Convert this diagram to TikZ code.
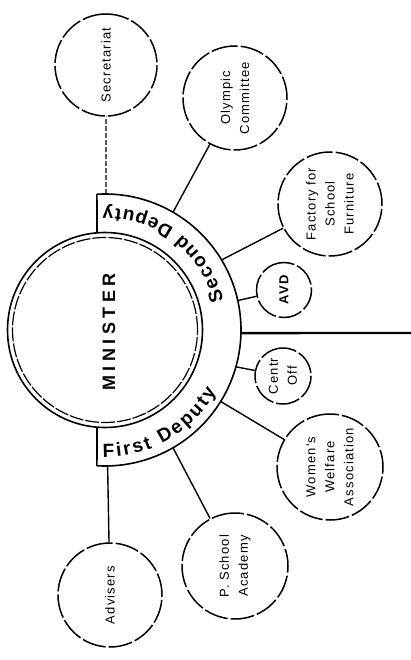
\documentclass[tikz,border=0pt]{standalone}
\usepackage{fontspec}
\setmainfont{Liberation Sans}
\newfontfamily\subfont[LetterSpace=9]{Liberation Sans}
\newfontfamily\minfont[LetterSpace=25]{Liberation Sans}
\usetikzlibrary{calc,decorations.text}
\begin{document}
\begin{tikzpicture}[x=1pt,y=1pt,
  sub/.style={circle, draw, line width=1.5pt, dash pattern=on 24pt off 3pt,
    minimum size=#1, inner sep=0pt, rotate=90, align=center,
    font=\subfont\fontsize{13}{19}\selectfont},
  conn/.style={line width=1.4pt},
  ring/.style={line width=1.6pt}]
\useasboundingbox (0,0) rectangle (411,-660);
\coordinate (C) at (105,-330);

% Minister double circle
\draw[ring] (C) circle[radius=97.5];
\draw[line width=1.2pt, dash pattern=on 14pt off 2pt] (C) circle[radius=92.5];
\node[rotate=90, font=\minfont\bfseries\fontsize{18}{18}\selectfont] (min) at (109,-332) {MINISTER};

% Deputy band
\coordinate (bt) at ($(C)+(93.4:136)$);
\coordinate (bb) at ($(C)+(-93.4:136)$);
\coordinate (it) at ($(C)+(94.7:97.5)$);
\coordinate (ib) at ($(C)+(-94.7:97.5)$);
\draw[ring] (bt) arc[start angle=93.4, end angle=-93.4, radius=136];
\draw[ring] (bt) -- (it);
\draw[ring] (bb) -- (ib);

\path[decorate, decoration={text along path, text align=fit to path,
  text={|\bfseries\fontsize{19}{19}\selectfont|Second Deputy}}]
  ($(C)+(14:122)$) arc[start angle=14, end angle=91, radius=122];
\path[decorate, decoration={text along path, text align=fit to path,
  text={|\bfseries\fontsize{19}{19}\selectfont|First Deputy}}]
  ($(C)+(-91:127)$) arc[start angle=-91, end angle=-29, radius=127];

% Main line to the right
\coordinate (bE) at ($(C)+(-1.3:135.5)$);
\coordinate (exit) at (411,-333);
\draw[line width=2.4pt] (bE) -- (exit);

% Sub units
\node[sub=102pt] (sec) at (106,-65) {Secretariat};
\node[sub=104pt] (oly) at (235,-98) {Olympic\\Committee};
\node[sub=104pt] (fac) at (330,-204) {Factory for\\School\\Furniture};
\node[sub=55pt, font=\subfont\bfseries\fontsize{13}{19}\selectfont] (avd) at (284,-290) {AVD};
\node[sub=56pt] (cen) at (283,-376) {Centr\\Off};
\node[sub=106pt] (wom) at (330,-467) {Women's\\Welfare\\Association};
\node[sub=106pt] (pio) at (235,-566) {P. School\\Academy};
\node[sub=104pt] (adv) at (110,-595) {Advisers};

% Anchors on the band
\coordinate (bS) at ($(C)+(89.6:136)$);
\coordinate (bO) at ($(C)+(60:136)$);
\coordinate (bF) at ($(C)+(31:136)$);
\coordinate (bA) at ($(C)+(12.5:136)$);
\coordinate (bC) at ($(C)+(-15.7:136)$);
\coordinate (bW) at ($(C)+(-31.7:136)$);
\coordinate (bP) at ($(C)+(-60:136)$);
\coordinate (bD) at ($(C)+(-88.9:136)$);

\draw[conn, dash pattern=on 5pt off 2pt] (bS) -- (sec);
\draw[conn] (bO) -- (oly);
\draw[conn] (bF) -- (fac);
\draw[conn] (bA) -- (avd);
\draw[conn] (bC) -- (cen);
\draw[conn] (bW) -- (wom);
\draw[conn] (bP) -- (pio);
\draw[conn] (bD) -- (adv);
\end{tikzpicture}
\end{document}
